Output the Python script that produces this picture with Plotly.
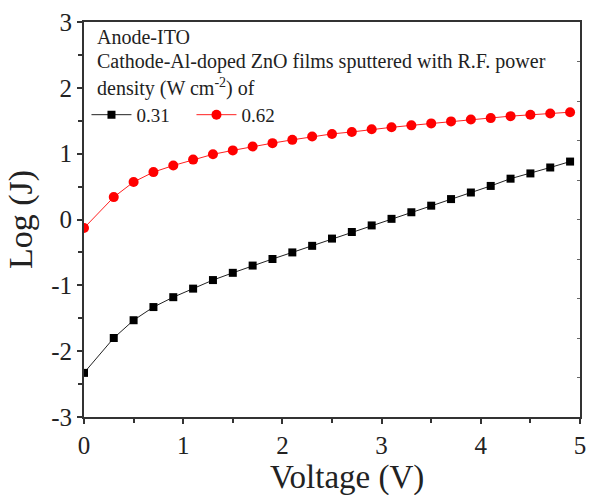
import plotly.graph_objects as go

voltage = [0, 0.3, 0.5, 0.7, 0.9, 1.1, 1.3, 1.5, 1.7, 1.9, 2.1, 2.3, 2.5, 2.7, 2.9,
           3.1, 3.3, 3.5, 3.7, 3.9, 4.1, 4.3, 4.5, 4.7, 4.9]
logj_031 = [-2.33, -1.80, -1.53, -1.33, -1.18, -1.05, -0.92, -0.81, -0.70, -0.60, -0.50,
            -0.40, -0.29, -0.19, -0.09, 0.01, 0.11, 0.21, 0.31, 0.41, 0.51, 0.62, 0.70,
            0.79, 0.88]
logj_062 = [-0.13, 0.34, 0.57, 0.72, 0.82, 0.91, 0.99, 1.05, 1.11, 1.16, 1.21, 1.26,
            1.30, 1.33, 1.37, 1.40, 1.43, 1.46, 1.49, 1.52, 1.54, 1.57, 1.59, 1.61, 1.63]
series_names = ["0.31", "0.62"]
x_ticks = [0, 1, 2, 3, 4, 5]
y_ticks = [-3, -2, -1, 0, 1, 2, 3]
y_ticklabels = ["-3", "-2", "-1", "0", "1", "2", "3"]
note_lines = ["Anode-ITO",
              "Cathode-Al-doped ZnO films sputtered with R.F. power",
              "density (W cm<sup>-2</sup>) of"]
x_title = "Voltage (V)"
y_title = "Log (J)"

FONT = "Liberation Serif"
TXT = "#222222"

fig = go.Figure()
fig.add_trace(go.Scatter(x=voltage, y=logj_031, mode="lines+markers", name=series_names[0],
                         line=dict(color="#222222", width=1),
                         marker=dict(symbol="square", size=8, color="black")))
fig.add_trace(go.Scatter(x=voltage, y=logj_062, mode="lines+markers", name=series_names[1],
                         line=dict(color="#ff2020", width=1),
                         marker=dict(symbol="circle", size=10, color="#ff0000")))

annotations = []
for txt, yp in zip(note_lines, [0.962, 0.899, 0.833]):
    annotations.append(dict(text=txt, x=0.022, y=yp, xref="paper", yref="paper",
                            xanchor="left", yanchor="middle", showarrow=False,
                            font=dict(family=FONT, size=20, color=TXT)))
annotations.append(dict(text=x_title, x=0.53, y=-0.153, xref="paper", yref="paper",
                        xanchor="center", yanchor="middle", showarrow=False,
                        font=dict(family=FONT, size=33, color=TXT)))

fig.update_layout(
    width=592, height=495,
    margin=dict(l=84, r=6, t=22, b=78),
    paper_bgcolor="white", plot_bgcolor="white",
    font=dict(family=FONT, color=TXT),
    showlegend=True,
    legend=dict(orientation="h", x=0.005, y=0.765, xanchor="left", yanchor="middle",
                font=dict(family=FONT, size=19, color=TXT),
                bgcolor="rgba(0,0,0,0)", itemwidth=40, tracegroupgap=0,
                entrywidth=50, entrywidthmode="pixels"),
    annotations=annotations,
    xaxis=dict(range=[0, 5], tickvals=x_ticks, ticks="outside", ticklen=5, tickwidth=1.5,
               tickcolor="#333333", showline=True, linecolor="#333333", linewidth=2,
               mirror=True, showgrid=False, zeroline=False,
               tickfont=dict(family=FONT, size=25, color=TXT),
               minor=dict(dtick=0.5, ticks="outside", ticklen=4, tickcolor="#333333")),
    yaxis=dict(range=[-3, 3], tickvals=y_ticks, ticktext=y_ticklabels, ticks="outside",
               ticklen=5, tickwidth=1.5,
               tickcolor="#333333", showline=True, linecolor="#333333", linewidth=2,
               mirror=True, showgrid=False, zeroline=False,
               tickfont=dict(family=FONT, size=25, color=TXT),
               minor=dict(dtick=0.5, ticks="outside", ticklen=4, tickcolor="#333333"),
               title=dict(text=y_title, font=dict(family=FONT, size=34, color=TXT),
                          standoff=8)),
    yaxis2=dict(overlaying="y", side="right", range=[0, 10], dtick=1, ticks="inside",
                ticklen=3, tickcolor="#666666", showticklabels=False, showgrid=False,
                zeroline=False, showline=False),
)
fig.add_trace(go.Scatter(x=[None], y=[None], yaxis="y2", showlegend=False, hoverinfo="skip"))

fig.write_html("out.html")
